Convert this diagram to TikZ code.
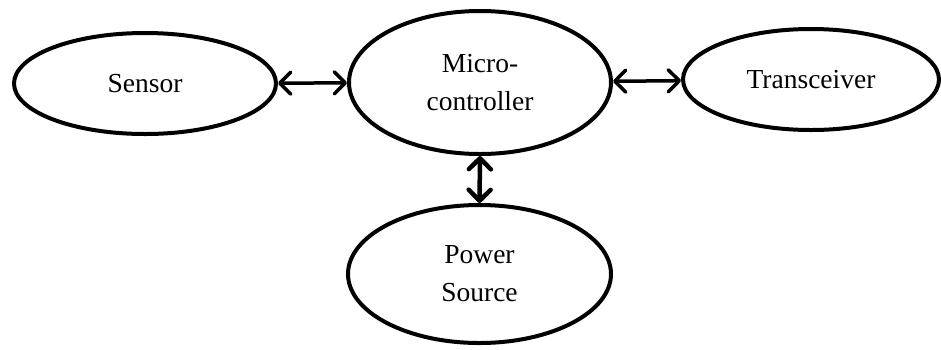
\documentclass[tikz,border=0pt]{standalone}
\usepackage{fontspec}
\setmainfont{Liberation Serif}
\usetikzlibrary{shapes.geometric,arrows.meta}
\begin{document}
\begin{tikzpicture}[x=1pt,y=-1pt,
  blob/.style={ellipse,draw,line width=4pt,inner sep=0pt,align=center,
    font=\fontsize{27.5}{38}\selectfont},
  link/.style={line width=3.5pt,{Straight Barb[length=11pt,width=22pt,round]}-{Straight Barb[length=11pt,width=22pt,round]}}]
  \useasboundingbox (0,0) rectangle (941,349);
  \node[blob,minimum width=262pt,minimum height=101pt] (sensor) at (145,83.5) {Sensor};
  \node[blob,minimum width=262pt,minimum height=143pt] (mcu) at (480,82.5) {Micro-\\controller};
  \node[blob,minimum width=256pt,minimum height=101pt] (radio) at (811,79.5) {Transceiver};
  \node[blob,minimum width=263pt,minimum height=138pt] (power) at (479.5,274) {Power\\Source};
  \draw[link] (sensor) -- (mcu);
  \draw[link] (mcu) -- (radio);
  \draw[link,line width=4.5pt] (mcu.south) -- (power.north);
\end{tikzpicture}
\end{document}
